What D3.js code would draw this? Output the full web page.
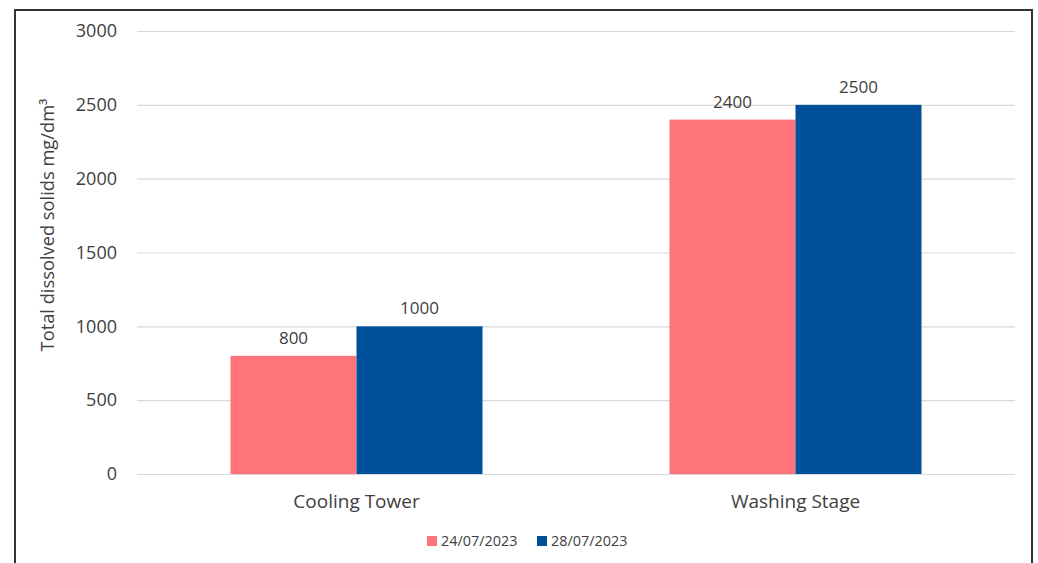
<!DOCTYPE html>
<html>
<head>
<meta charset="utf-8">
<script src="https://cdn.jsdelivr.net/npm/d3@7"></script>
<style>
  html, body { margin: 0; padding: 0; background: #fff; }
  svg { display: block; font-family: "Open Sans", "Noto Sans", sans-serif; }
</style>
</head>
<body>
<svg id="chart" width="1038" height="563"></svg>
<script>
// Sampling sites and the two sampling dates
const categories = ["Cooling Tower", "Washing Stage"];
const seriesNames = ["24/07/2023", "28/07/2023"];
const seriesColors = ["#FF747A", "#01519A"];
// Total dissolved solids (mg/dm³), one array per date
const values0724 = [800, 2400];
const values0728 = [1000, 2500];
const yTicks = [0, 500, 1000, 1500, 2000, 2500, 3000];

const series = [values0724, values0728];
const data = categories.map((c, i) => ({
  category: c,
  items: seriesNames.map((s, j) => ({ series: s, value: series[j][i], color: seriesColors[j] }))
}));

const svg = d3.select("#chart");
const textColor = "#404040";

// Outer frame
svg.append("rect")
  .attr("x", 15).attr("y", 10)
  .attr("width", 1017).attr("height", 600)
  .attr("fill", "#fff")
  .attr("stroke", "#333").attr("stroke-width", 2);

const plot = { left: 137, right: 1015, top: 31, bottom: 474 };

const x0 = d3.scaleBand().domain(categories).range([plot.left, plot.right]).padding(0);
const x1 = d3.scaleBand().domain(seriesNames).range([0, x0.bandwidth()])
  .paddingInner(0).paddingOuter(0.742);
const y = d3.scaleLinear().domain([0, 3000]).range([plot.bottom, plot.top]);

// Gridlines
svg.append("g").selectAll("line").data(yTicks).join("line")
  .attr("x1", plot.left).attr("x2", plot.right)
  .attr("y1", d => y(d) + 0.5).attr("y2", d => y(d) + 0.5)
  .attr("stroke", "#d9d9d9").attr("stroke-width", 1.2);

// Y axis tick labels
const yAxis = d3.axisLeft(y).tickValues(yTicks).tickFormat(d3.format("d")).tickSize(0).tickPadding(0);
const yg = svg.append("g").attr("transform", `translate(117,0)`).call(yAxis);
yg.select(".domain").remove();
yg.selectAll("text")
  .attr("fill", textColor)
  .attr("font-size", 18)
  .attr("font-family", "'Open Sans', sans-serif");

// Y axis title
svg.append("text")
  .attr("transform", `translate(54,225) rotate(-90)`)
  .attr("text-anchor", "middle")
  .attr("fill", textColor)
  .attr("font-size", 18.3)
  .text("Total dissolved solids mg/dm³");

// Bars
const groups = svg.append("g").selectAll("g").data(data).join("g")
  .attr("transform", d => `translate(${x0(d.category)},0)`);

groups.selectAll("rect").data(d => d.items).join("rect")
  .attr("x", d => x1(d.series))
  .attr("width", x1.bandwidth())
  .attr("y", d => y(d.value))
  .attr("height", d => y(0) - y(d.value))
  .attr("fill", d => d.color);

// Value labels
groups.selectAll("text.val").data(d => d.items).join("text")
  .attr("class", "val")
  .attr("x", d => x1(d.series) + x1.bandwidth() / 2)
  .attr("y", d => y(d.value) - 12)
  .attr("text-anchor", "middle")
  .attr("fill", textColor)
  .attr("font-size", 17)
  .text(d => d.value);

// Category axis labels
const xAxis = d3.axisBottom(x0).tickSize(0).tickPadding(0);
const xg = svg.append("g").attr("transform", `translate(0,${plot.bottom + 20})`).call(xAxis);
xg.select(".domain").remove();
xg.selectAll("text")
  .attr("fill", textColor)
  .attr("font-size", 19)
  .attr("font-family", "'Open Sans', sans-serif");

// Legend
const legendX = [427, 537];
const legend = svg.append("g").selectAll("g").data(seriesNames).join("g")
  .attr("transform", (d, i) => `translate(${legendX[i]},536)`);
legend.append("rect")
  .attr("width", 10).attr("height", 10)
  .attr("fill", (d, i) => seriesColors[i]);
legend.append("text")
  .attr("x", 14).attr("y", 10)
  .attr("fill", textColor)
  .attr("font-size", 14.4)
  .text(d => d);
</script>
</body>
</html>
